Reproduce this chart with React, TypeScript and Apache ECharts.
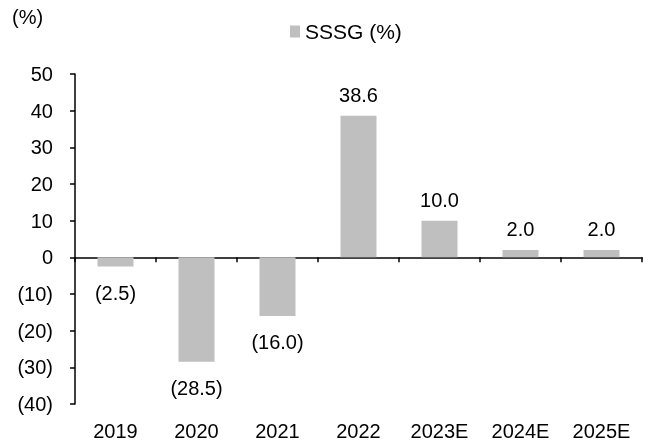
import React, { useEffect, useRef } from "react";
import * as echarts from "echarts";

const categories = ["2019", "2020", "2021", "2022", "2023E", "2024E", "2025E"];
const sssg = [-2.5, -28.5, -16.0, 38.6, 10.0, 2.0, 2.0];
const seriesName = "SSSG (%)";
const unitLabel = "(%)";

const FONT = "'Liberation Sans', Arial, sans-serif";
const FS = 20;

const fmt = (v: number, digits: number) =>
  v < 0 ? `(${Math.abs(v).toFixed(digits)})` : v.toFixed(digits);

export default function App() {
  const ref = useRef<HTMLDivElement>(null);
  useEffect(() => {
    if (!ref.current) return;
    const chart = echarts.init(ref.current, undefined, { renderer: "svg" });
    chart.setOption({
      animation: false,
      textStyle: { fontFamily: FONT, color: "#000" },
      grid: { left: 75, right: 9, top: 74, bottom: 37, containLabel: false },
      legend: {
        top: 21,
        left: 290,
        padding: 0,
        icon: "rect",
        itemWidth: 10,
        itemHeight: 12,
        itemGap: 4,
        textStyle: { fontFamily: FONT, fontSize: 21, color: "#000" },
        data: [seriesName],
      },
      graphic: [
        {
          type: "text",
          left: 12,
          top: 7,
          style: { text: unitLabel, fontFamily: FONT, fontSize: FS, fill: "#000" },
        },
      ],
      xAxis: [
        {
          type: "category",
          data: categories,
          position: "bottom",
          axisLine: { onZero: true, lineStyle: { color: "#000", width: 1.5 } },
          axisTick: { show: true, length: 5, lineStyle: { color: "#000", width: 1.5 } },
          axisLabel: { show: false },
        },
        {
          type: "category",
          data: categories,
          position: "bottom",
          axisLine: { show: false, onZero: false },
          axisTick: { show: false },
          axisLabel: { margin: 17, fontFamily: FONT, fontSize: FS, color: "#000" },
        },
      ],
      yAxis: {
        type: "value",
        min: -40,
        max: 50,
        interval: 10,
        axisLine: { show: true, lineStyle: { color: "#000", width: 1.5 } },
        axisTick: { show: true, length: 5, lineStyle: { color: "#000", width: 1.5 } },
        splitLine: { show: false },
        axisLabel: {
          margin: 22,
          fontFamily: FONT,
          fontSize: FS,
          color: "#000",
          formatter: (v: number) => fmt(v, 0),
        },
      },
      series: [
        {
          name: seriesName,
          type: "bar",
          xAxisIndex: 0,
          barWidth: 36,
          itemStyle: { color: "#bfbfbf" },
          data: sssg.map((v) => ({
            value: v,
            label: {
              show: true,
              position: v < 0 ? "bottom" : "top",
              distance: v < 0 ? 16 : 11,
              formatter: () => fmt(v, 1),
              fontFamily: FONT,
              fontSize: FS,
              color: "#000",
            },
          })),
        },
      ],
    });
    return () => chart.dispose();
  }, []);
  return <div ref={ref} style={{ width: 651, height: 441, position: "fixed", left: 0, top: 0 }} />;
}
